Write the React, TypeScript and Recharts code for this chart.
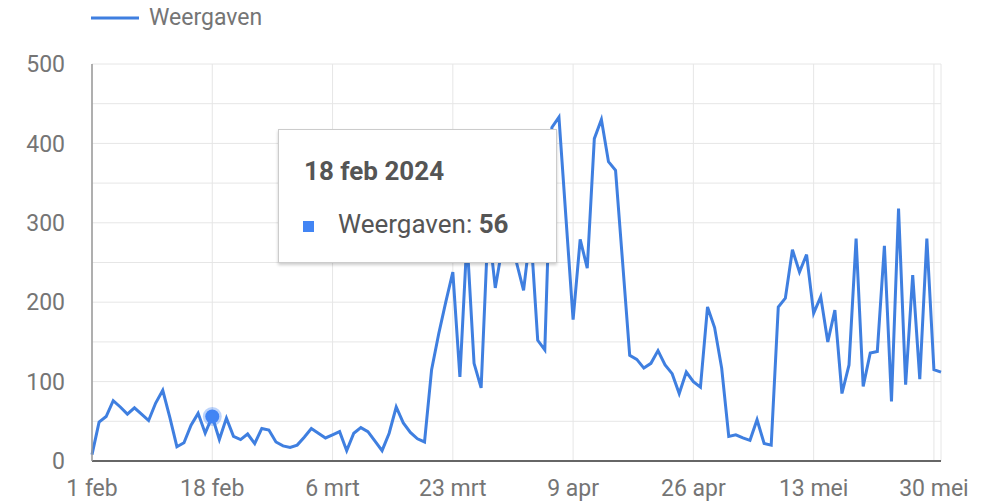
import { CartesianGrid, Legend, Line, LineChart, Tooltip, XAxis, YAxis } from "recharts";

// Dagelijkse weergaven, 1 feb 2024 t/m 31 mei 2024
const startDate = new Date(2024, 1, 1);
const monthNames = ["jan", "feb", "mrt", "apr", "mei", "jun", "jul", "aug", "sep", "okt", "nov", "dec"];

const views = [
  8, 49, 56, 76, 68, 59, 67, 59, 51, 73, 89, 55, 18, 23, 45, 60, 35, 56, 27, 54,
  31, 27, 34, 22, 41, 39, 24, 19, 17, 20, 30, 41, 35, 29, 33, 37, 13, 35, 42, 37,
  25, 13, 35, 68, 48, 36, 28, 24, 115, 160, 200, 238, 106, 280, 123, 92, 300, 218, 270, 285,
  250, 215, 290, 152, 140, 420, 433, 305, 178, 279, 243, 406, 430, 377, 366, 250, 133, 128, 117, 123,
  139, 121, 110, 85, 112, 100, 93, 194, 168, 117, 31, 33, 29, 26, 52, 22, 20, 194, 205, 266,
  238, 260, 186, 207, 150, 190, 85, 121, 280, 94, 136, 138, 271, 75, 318, 96, 234, 103, 280, 115,
  112,
];

const tickDays = [0, 17, 34, 51, 68, 85, 102, 119];
const tickLabels = ["1 feb", "18 feb", "6 mrt", "23 mrt", "9 apr", "26 apr", "13 mei", "30 mei"];
const yTicks = [0, 50, 100, 150, 200, 250, 300, 350, 400, 450, 500];

const LINE_COLOR = "#3f7fe0";
const FONT = "Roboto, sans-serif";

function dateLabel(day: number) {
  const d = new Date(startDate.getFullYear(), startDate.getMonth(), startDate.getDate() + day);
  return `${d.getDate()} ${monthNames[d.getMonth()]} ${d.getFullYear()}`;
}

const data = views.map((v, i) => ({ day: i, label: dateLabel(i), views: v }));

function LegendBox() {
  return (
    <div style={{ display: "flex", alignItems: "center", fontFamily: FONT }}>
      <svg width={48} height={6}>
        <line x1={0} y1={3} x2={48} y2={3} stroke={LINE_COLOR} strokeWidth={3} />
      </svg>
      <span style={{ marginLeft: 10, fontSize: 23, color: "#757575" }}>Weergaven</span>
    </div>
  );
}

function TipBox({ active, payload }: any) {
  if (!active || !payload || !payload.length) return null;
  const p = payload[0].payload;
  return (
    <div
      style={{
        position: "relative",
        width: 279,
        height: 134,
        boxSizing: "border-box",
        background: "#fff",
        border: "1px solid #cccccc",
        boxShadow: "0 2px 3px rgba(0,0,0,0.2)",
        fontFamily: FONT,
        color: "#555",
      }}
    >
      <div style={{ position: "absolute", left: 25, top: 28, fontSize: 26, lineHeight: "26px", fontWeight: 700, whiteSpace: "nowrap" }}>
        {p.label}
      </div>
      <div style={{ position: "absolute", left: 24, top: 91, width: 11, height: 11, background: "#4285f4" }} />
      <div style={{ position: "absolute", left: 59, top: 81, fontSize: 26, lineHeight: "26px", whiteSpace: "nowrap" }}>
        Weergaven: <b>{p.views}</b>
      </div>
    </div>
  );
}

export default function App() {
  return (
    <div style={{ width: 990, height: 502 }}>
      <style>{`body{margin:0}`}</style>
      <LineChart
        width={990}
        height={502}
        data={data}
        margin={{ top: 64, right: 49, left: 0, bottom: 0 }}
        style={{ fontFamily: FONT }}
      >
        <CartesianGrid stroke="#e6e6e6" strokeWidth={1} />
        <XAxis
          dataKey="day"
          type="number"
          domain={[0, 120]}
          ticks={tickDays}
          interval={0}
          height={41}
          tickFormatter={(d: number) => tickLabels[tickDays.indexOf(d)] ?? ""}
          tick={{ fontSize: 23, fill: "#757575" }}
          tickLine={false}
          tickSize={6}
          tickMargin={13}
          axisLine={{ stroke: "#666", strokeWidth: 2 }}
        />
        <YAxis
          type="number"
          domain={[0, 500]}
          ticks={yTicks}
          interval={0}
          width={92}
          tickFormatter={(v: number) => (v % 100 === 0 ? String(v) : "")}
          tick={{ fontSize: 23, fill: "#757575" }}
          tickLine={false}
          tickSize={6}
          tickMargin={21}
          axisLine={{ stroke: "#999", strokeWidth: 1.5 }}
        />
        <Legend
          layout="horizontal"
          verticalAlign="middle"
          content={() => <LegendBox />}
          wrapperStyle={{ position: "absolute", top: 4, left: 91, width: "auto" }}
        />
        <Tooltip
          active
          defaultIndex={17}
          position={{ x: 278, y: 129 }}
          cursor={false}
          isAnimationActive={false}
          content={<TipBox />}
          wrapperStyle={{ outline: "none" }}
        />
        <Line
          type="linear"
          dataKey="views"
          name="Weergaven"
          stroke={LINE_COLOR}
          strokeWidth={3}
          dot={false}
          activeDot={{ r: 7, fill: "#4285f4", stroke: "rgba(66,133,244,0.35)", strokeWidth: 5 }}
          isAnimationActive={false}
        />
      </LineChart>
    </div>
  );
}
